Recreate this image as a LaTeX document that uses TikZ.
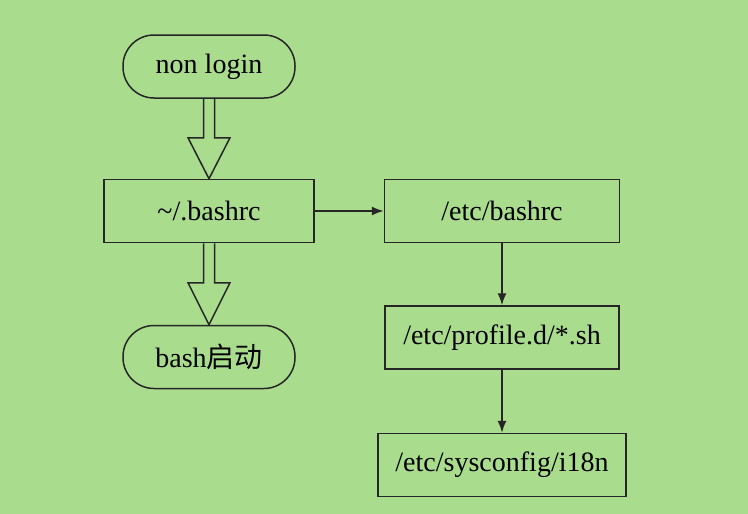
\documentclass[tikz,border=0pt]{standalone}
\usepackage{fontspec}
\setmainfont{Liberation Serif}
\newfontfamily\cjk{Noto Sans CJK SC}
\usetikzlibrary{calc,arrows.meta}
\definecolor{bg}{HTML}{A9DD8D}
\tikzset{
  base/.style={draw=black!85, line width=1.5pt, inner sep=0pt, font=\fontsize{28}{30}\selectfont},
  term/.style={base, rounded corners=31pt, minimum width=172pt, minimum height=63pt},
  proc/.style={base, minimum height=63pt},
  hollow/.style={draw=black!85, line width=1.5pt, line join=miter},
  conn/.style={draw=black!85, line width=1.5pt, -{Latex[length=12pt,width=9pt]}}
}
\begin{document}
\begin{tikzpicture}[x=1pt,y=-1pt]
\fill[bg] (0,0) rectangle (748,514);
\useasboundingbox (0,0) rectangle (748,514);
\node[term] (nl) at (209,66.5) {non login};
\node[proc, minimum width=210pt] (br) at (209,211) {\textasciitilde/.bashrc};
\node[term] (bs) at (209,357) {bash{\cjk 启动}};
\node[proc, minimum width=235pt] (ebr) at (502,211) {/etc/bashrc};
\node[proc, minimum width=234pt] (pd) at (502,337.5) {/etc/profile.d/*.sh};
\node[proc, minimum width=248pt] (sc) at (502,465) {/etc/sysconfig/i18n};
\draw[hollow] ($(nl.south)+(-5.5,0)$) -- ($(br.north)+(-5.5,-41)$) -- ($(br.north)+(-21,-41)$)
  -- (br.north) -- ($(br.north)+(21,-41)$) -- ($(br.north)+(5.5,-41)$) -- ($(nl.south)+(5.5,0)$);
\draw[hollow] ($(br.south)+(-5.5,0)$) -- ($(bs.north)+(-5.5,-42)$) -- ($(bs.north)+(-21,-42)$)
  -- (bs.north) -- ($(bs.north)+(21,-42)$) -- ($(bs.north)+(5.5,-42)$) -- ($(br.south)+(5.5,0)$);
\draw[conn] (br.east) -- (ebr.west);
\draw[conn] (ebr.south) -- (pd.north);
\draw[conn] (pd.south) -- (sc.north);
\end{tikzpicture}
\end{document}
